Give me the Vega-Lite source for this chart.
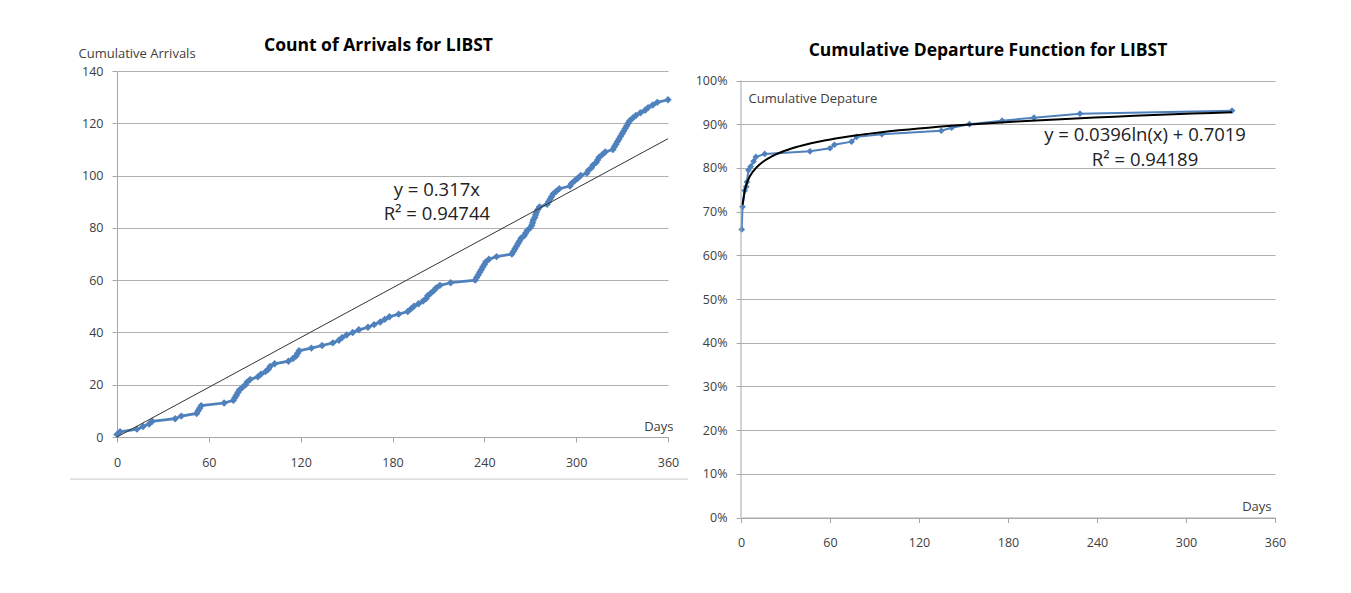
{
  "$schema": "https://vega.github.io/schema/vega-lite/v6.json",
  "autosize": {"type": "none"},
  "padding": {"left": 117, "top": 71, "right": 1234, "bottom": 522},
  "background": "white",
  "config": {
    "font": "Open Sans",
    "view": {"stroke": null},
    "axis": {
      "labelFont": "Open Sans",
      "labelFontSize": 12.5,
      "labelColor": "#404040",
      "titleFont": "Open Sans",
      "titleFontSize": 13,
      "titleFontWeight": "normal",
      "titleColor": "#404040",
      "gridColor": "#b0b0b0",
      "gridWidth": 1,
      "domainColor": "#a6a6a6",
      "tickColor": "#a6a6a6",
      "tickSize": 5
    },
    "title": {"font": "Open Sans", "fontSize": 17.5, "fontWeight": "bold", "color": "#000000"}
  },
  "datasets": {
    "arrivals": [
      {"day": 0, "count": 1}, {"day": 2, "count": 2}, {"day": 13, "count": 3}, {"day": 17, "count": 4},
      {"day": 21, "count": 5}, {"day": 23, "count": 6}, {"day": 38, "count": 7}, {"day": 42, "count": 8},
      {"day": 52, "count": 9}, {"day": 53, "count": 10}, {"day": 54, "count": 11}, {"day": 55, "count": 12},
      {"day": 70, "count": 13}, {"day": 76, "count": 14}, {"day": 77, "count": 15}, {"day": 78, "count": 16},
      {"day": 79, "count": 17}, {"day": 80, "count": 18}, {"day": 82, "count": 19}, {"day": 84, "count": 20},
      {"day": 85, "count": 21}, {"day": 87, "count": 22}, {"day": 92, "count": 23}, {"day": 94, "count": 24},
      {"day": 97, "count": 25}, {"day": 99, "count": 26}, {"day": 100, "count": 27}, {"day": 103, "count": 28},
      {"day": 112, "count": 29}, {"day": 115, "count": 30}, {"day": 117, "count": 31}, {"day": 118, "count": 32},
      {"day": 119, "count": 33}, {"day": 127, "count": 34}, {"day": 134, "count": 35}, {"day": 141, "count": 36},
      {"day": 145, "count": 37}, {"day": 147, "count": 38}, {"day": 150, "count": 39}, {"day": 154, "count": 40},
      {"day": 158, "count": 41}, {"day": 164, "count": 42}, {"day": 168, "count": 43}, {"day": 172, "count": 44},
      {"day": 175, "count": 45}, {"day": 178, "count": 46}, {"day": 184, "count": 47}, {"day": 190, "count": 48},
      {"day": 192, "count": 49}, {"day": 194, "count": 50}, {"day": 197, "count": 51}, {"day": 200, "count": 52},
      {"day": 202, "count": 53}, {"day": 203, "count": 54}, {"day": 205, "count": 55}, {"day": 207, "count": 56},
      {"day": 208.5, "count": 57}, {"day": 211, "count": 58}, {"day": 218, "count": 59}, {"day": 234, "count": 60},
      {"day": 235, "count": 61}, {"day": 236, "count": 62}, {"day": 237, "count": 63}, {"day": 238, "count": 64},
      {"day": 239, "count": 65}, {"day": 240, "count": 66}, {"day": 241, "count": 67}, {"day": 243, "count": 68},
      {"day": 248, "count": 69}, {"day": 258, "count": 70}, {"day": 259, "count": 71}, {"day": 260, "count": 72},
      {"day": 261, "count": 73}, {"day": 262, "count": 74}, {"day": 263, "count": 75}, {"day": 264, "count": 76},
      {"day": 266, "count": 77}, {"day": 267, "count": 78}, {"day": 268, "count": 79}, {"day": 270, "count": 80},
      {"day": 271, "count": 81}, {"day": 271.5, "count": 82}, {"day": 272, "count": 83}, {"day": 273, "count": 84},
      {"day": 273.5, "count": 85}, {"day": 274, "count": 86}, {"day": 275, "count": 87}, {"day": 276, "count": 88},
      {"day": 281, "count": 89}, {"day": 282, "count": 90}, {"day": 283, "count": 91}, {"day": 284, "count": 92},
      {"day": 285, "count": 93}, {"day": 287, "count": 94}, {"day": 289, "count": 95}, {"day": 296, "count": 96},
      {"day": 297, "count": 97}, {"day": 299, "count": 98}, {"day": 301, "count": 99}, {"day": 303, "count": 100},
      {"day": 307, "count": 101}, {"day": 308, "count": 102}, {"day": 310, "count": 103}, {"day": 311, "count": 104},
      {"day": 313, "count": 105}, {"day": 314, "count": 106}, {"day": 315, "count": 107}, {"day": 317, "count": 108},
      {"day": 319, "count": 109}, {"day": 324, "count": 110}, {"day": 325, "count": 111}, {"day": 326, "count": 112},
      {"day": 327, "count": 113}, {"day": 328, "count": 114}, {"day": 329, "count": 115}, {"day": 330, "count": 116},
      {"day": 331, "count": 117}, {"day": 332, "count": 118}, {"day": 333, "count": 119}, {"day": 334, "count": 120},
      {"day": 335, "count": 121}, {"day": 337, "count": 122}, {"day": 339, "count": 123}, {"day": 342, "count": 124},
      {"day": 345, "count": 125}, {"day": 347, "count": 126}, {"day": 350, "count": 127}, {"day": 353, "count": 128},
      {"day": 360, "count": 129}
    ],
    "arrivalTrend": [{"day": 0, "count": 0}, {"day": 360, "count": 114.1}],
    "arrivalLabel": [{"day": 209, "count": 94.5, "label": ["y = 0.317x", "R² = 0.94744"]}],
    "frame": [{"x0": -30.7, "x1": 373, "yv": -16.1}],
    "departures": [
      {"day": 0.5, "pct": 0.659}, {"day": 1, "pct": 0.711}, {"day": 2.5, "pct": 0.748}, {"day": 3.5, "pct": 0.757},
      {"day": 4, "pct": 0.768}, {"day": 5, "pct": 0.795}, {"day": 6.5, "pct": 0.803}, {"day": 8.5, "pct": 0.815},
      {"day": 10, "pct": 0.825}, {"day": 16, "pct": 0.832}, {"day": 46.5, "pct": 0.838}, {"day": 60, "pct": 0.845},
      {"day": 63, "pct": 0.853}, {"day": 74.5, "pct": 0.86}, {"day": 78, "pct": 0.871}, {"day": 95, "pct": 0.877},
      {"day": 135, "pct": 0.885}, {"day": 142, "pct": 0.892}, {"day": 154, "pct": 0.9}, {"day": 176, "pct": 0.908},
      {"day": 197.5, "pct": 0.915}, {"day": 228.5, "pct": 0.924}, {"day": 331, "pct": 0.931}
    ],
    "departureLabel": [{"day": 272.4, "pct": 0.8753, "label": ["y = 0.0396ln(x) + 0.7019", "R² = 0.94189"]}]
  },
  "hconcat": [
    {
      "width": 551,
      "height": 366,
      "title": {"text": "Count of Arrivals for LIBST", "anchor": "middle", "dx": -14, "dy": 21, "offset": 14},
      "layer": [
        {
          "data": {"name": "frame"},
          "mark": {"type": "rule", "color": "#c8c8c8", "strokeWidth": 1},
          "encoding": {
            "x": {"field": "x0", "type": "quantitative", "scale": {"domain": [0, 360], "nice": false, "zero": false}},
            "x2": {"field": "x1"},
            "y": {"field": "yv", "type": "quantitative", "scale": {"domain": [0, 140], "nice": false, "zero": false}}
          }
        },
        {
          "data": {"name": "arrivals"},
          "mark": {"type": "line", "color": "#4F81BD", "strokeWidth": 2.75,
                   "point": {"shape": "diamond", "size": 55, "filled": true, "color": "#4F81BD"}},
          "encoding": {
            "x": {"field": "day", "type": "quantitative",
                  "scale": {"domain": [0, 360], "nice": false, "zero": false},
                  "axis": {"values": [0, 60, 120, 180, 240, 300, 360], "grid": false, "labelPadding": 14,
                           "labelFlush": false, "title": "Days", "titleX": 556, "titleY": -7,
                           "titleAlign": "right", "titleBaseline": "alphabetic", "titleAnchor": null}},
            "y": {"field": "count", "type": "quantitative",
                  "scale": {"domain": [0, 140], "nice": false, "zero": false},
                  "axis": {"values": [0, 20, 40, 60, 80, 100, 120, 140], "grid": true, "labelPadding": 9,
                           "title": "Cumulative Arrivals", "titleAngle": 0, "titleX": -39, "titleY": -18,
                           "titleAlign": "left", "titleBaseline": "middle", "titleAnchor": null}}
          }
        },
        {
          "data": {"name": "arrivalTrend"},
          "mark": {"type": "line", "color": "#333333", "strokeWidth": 1},
          "encoding": {
            "x": {"field": "day", "type": "quantitative", "scale": {"domain": [0, 360], "nice": false, "zero": false}},
            "y": {"field": "count", "type": "quantitative", "scale": {"domain": [0, 140], "nice": false, "zero": false}}
          }
        },
        {
          "data": {"name": "arrivalLabel"},
          "mark": {"type": "text", "fontSize": 18.5, "lineHeight": 24, "align": "center", "baseline": "middle", "color": "#222222"},
          "encoding": {
            "x": {"field": "day", "type": "quantitative", "scale": {"domain": [0, 360], "nice": false, "zero": false}},
            "y": {"field": "count", "type": "quantitative", "scale": {"domain": [0, 140], "nice": false, "zero": false}},
            "text": {"field": "label"}
          }
        }
      ]
    },
    {
      "width": 534,
      "height": 446.5,
      "title": {"text": "Cumulative Departure Function for LIBST", "anchor": "middle", "dx": -20, "dy": 2, "offset": 14},
      "layer": [
        {
          "data": {"name": "departures"},
          "mark": {"type": "line", "color": "#4F81BD", "strokeWidth": 2,
                   "point": {"shape": "diamond", "size": 45, "filled": true, "color": "#4F81BD"}},
          "encoding": {
            "x": {"field": "day", "type": "quantitative",
                  "scale": {"domain": [0, 360], "nice": false, "zero": false},
                  "axis": {"values": [0, 60, 120, 180, 240, 300, 360], "grid": false, "labelPadding": 14,
                           "labelFlush": false, "title": "Days", "titleX": 530, "titleY": -7,
                           "titleAlign": "right", "titleBaseline": "alphabetic", "titleAnchor": null}},
            "y": {"field": "pct", "type": "quantitative",
                  "scale": {"domain": [0, 1.02174], "nice": false, "zero": false},
                  "axis": {"values": [0, 0.1, 0.2, 0.3, 0.4, 0.5, 0.6, 0.7, 0.8, 0.9, 1], "format": ".0%",
                           "grid": true, "domain": false, "labelPadding": 9,
                           "title": "Cumulative Depature", "titleAngle": 0, "titleX": 7, "titleY": 27,
                           "titleAlign": "left", "titleBaseline": "middle", "titleAnchor": null}}
          }
        },
        {
          "data": {"name": "departures"},
          "transform": [{"regression": "pct", "on": "day", "method": "log", "extent": [1, 331]}],
          "mark": {"type": "line", "color": "#000000", "strokeWidth": 2},
          "encoding": {
            "x": {"field": "day", "type": "quantitative", "scale": {"domain": [0, 360], "nice": false, "zero": false}},
            "y": {"field": "pct", "type": "quantitative", "scale": {"domain": [0, 1.02174], "nice": false, "zero": false}}
          }
        },
        {
          "data": {"values": [{"day": 0, "lo": 0, "hi": 1}]},
          "mark": {"type": "rule", "color": "#a6a6a6", "strokeWidth": 1},
          "encoding": {
            "x": {"field": "day", "type": "quantitative", "scale": {"domain": [0, 360], "nice": false, "zero": false}},
            "y": {"field": "lo", "type": "quantitative", "scale": {"domain": [0, 1.02174], "nice": false, "zero": false}},
            "y2": {"field": "hi"}
          }
        },
        {
          "data": {"name": "departureLabel"},
          "mark": {"type": "text", "fontSize": 18.5, "lineHeight": 25, "align": "center", "baseline": "middle", "color": "#222222"},
          "encoding": {
            "x": {"field": "day", "type": "quantitative", "scale": {"domain": [0, 360], "nice": false, "zero": false}},
            "y": {"field": "pct", "type": "quantitative", "scale": {"domain": [0, 1.02174], "nice": false, "zero": false}},
            "text": {"field": "label"}
          }
        }
      ]
    }
  ],
  "spacing": 73,
  "bounds": "flush"
}
